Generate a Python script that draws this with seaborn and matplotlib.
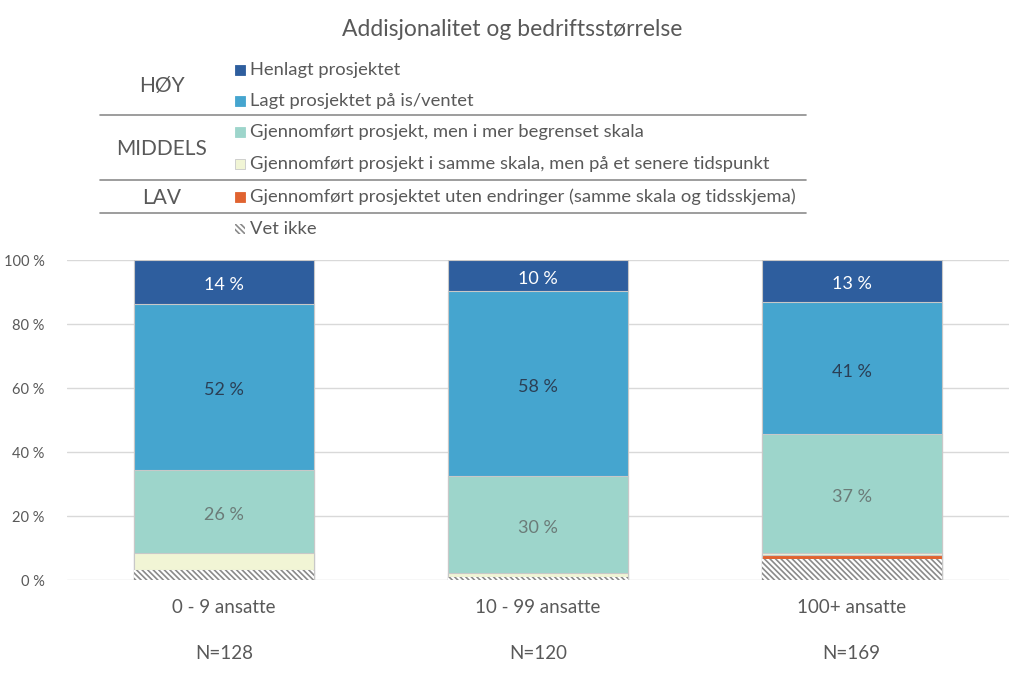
import matplotlib
matplotlib.use("Agg")
import matplotlib.pyplot as plt
from matplotlib.lines import Line2D
from matplotlib.patches import Rectangle
import pandas as pd
import seaborn as sns

# === data ===
categories = ["0 - 9 ansatte", "10 - 99 ansatte", "100+ ansatte"]
n_labels = ["N=128", "N=120", "N=169"]

henlagt = [13.8, 9.8, 13.2]      # Henlagt prosjektet
pa_is = [51.8, 57.7, 41.3]       # Lagt prosjektet på is/ventet
begrenset = [26.0, 30.3, 37.0]   # mer begrenset skala
senere = [5.4, 1.2, 0.8]         # samme skala, senere tidspunkt
uten_endr = [0.0, 0.0, 1.2]      # uten endringer
vet_ikke = [3.0, 1.0, 6.5]       # Vet ikke

series_names = [
    "Henlagt prosjektet",
    "Lagt prosjektet på is/ventet",
    "Gjennomført prosjekt, men i mer begrenset skala",
    "Gjennomført prosjekt i samme skala, men på et senere tidspunkt",
    "Gjennomført prosjektet uten endringer (samme skala og tidsskjema)",
    "Vet ikke",
]
colors = ["#2E5E9E", "#45A5CF", "#9DD5CB", "#F1F5D5", "#E06330", "white"]
label_colors = ["white", "#2b3f55", "#6b7b78", None, None, None]

sns.set_style("white")
plt.rcParams["font.family"] = ["Lato", "DejaVu Sans"]
plt.rcParams["hatch.color"] = "#8a8a8a"
plt.rcParams["hatch.linewidth"] = 1.2

# stack from bottom: vet ikke, uten endr, senere, begrenset, pa_is, henlagt
df = pd.DataFrame({
    "kategori": categories,
    "vet_ikke": vet_ikke,
    "uten_endr": uten_endr,
    "senere": senere,
    "begrenset": begrenset,
    "pa_is": pa_is,
    "henlagt": henlagt,
})
layers = ["vet_ikke", "uten_endr", "senere", "begrenset", "pa_is", "henlagt"]
cum = df[layers].cumsum(axis=1)

fig = plt.figure(figsize=(10.24, 6.75), dpi=100)
ax = fig.add_axes([0.0654, 0.1407, 0.9196, 0.4741])

W = 0.573
layer_col = {"henlagt": 0, "pa_is": 1, "begrenset": 2, "senere": 3, "uten_endr": 4, "vet_ikke": 5}
# draw tallest cumulative first so smaller stacks sit on top
for key in reversed(layers):
    i = layer_col[key]
    sns.barplot(data=cum.assign(kategori=categories), x="kategori", y=key, ax=ax,
                color=colors[i], width=W, edgecolor="#c8c8c8", linewidth=0.8,
                saturation=1, errorbar=None, zorder=2)
# hatch on the "vet ikke" layer
for p in ax.patches[-3:]:
    p.set_hatch("\\\\\\\\\\\\")
    p.set_edgecolor("#8a8a8a")
    p.set_linewidth(0)

# value labels
for key in ["henlagt", "pa_is", "begrenset"]:
    i = layer_col[key]
    for j in range(3):
        top = cum[key][j]
        mid = top - df[key][j] / 2 - 1
        ax.text(j, mid, f"{round(df[key][j])} %", ha="center", va="center",
                fontsize=13, color=label_colors[i], zorder=5)

ax.set_ylim(0, 100)
ax.set_xlim(-0.5, 2.5)
ax.set_yticks(range(0, 101, 20))
ax.set_yticklabels([f"{v} %" for v in range(0, 101, 20)], color="#595959", fontsize=10.5)
ax.yaxis.grid(True, color="#d9d9d9", linewidth=1, zorder=0)
ax.set_axisbelow(True)
ax.tick_params(axis="y", length=0, pad=16)
ax.tick_params(axis="x", length=0, pad=14, labelsize=13.5, labelcolor="#595959")
ax.set_xlabel("")
ax.set_ylabel("")
sns.despine(ax=ax, left=True, bottom=True)

for j, n in enumerate(n_labels):
    ax.text(j, -23, n, ha="center", va="center", fontsize=13.5, color="#595959")

fig.text(0.5, 1 - 29 / 675, "Addisjonalitet og bedriftsstørrelse",
         ha="center", va="center", fontsize=16.5, color="#595959")

# legend table
def fx(x):
    return x / 1024

def fy(y):
    return 1 - y / 675

entry_y = [70, 101, 132, 164, 197, 229]
for i, (name, y) in enumerate(zip(series_names, entry_y)):
    rect = Rectangle((fx(235), fy(y + 5)), fx(10), 10 / 675, transform=fig.transFigure,
                     facecolor=colors[i], edgecolor="#c8c8c8" if i == 3 else colors[i],
                     linewidth=0.6)
    if i == 5:
        rect.set_hatch("\\\\\\\\\\\\")
        rect.set_edgecolor("#8a8a8a")
        rect.set_linewidth(0)
    fig.add_artist(rect)
    fig.text(fx(250), fy(y), name, ha="left", va="center", fontsize=13.2, color="#595959")

for label, y in [("HØY", 86), ("MIDDELS", 149), ("LAV", 198)]:
    fig.text(fx(162), fy(y), label, ha="center", va="center", fontsize=15, color="#595959")

for y in [115, 180, 213]:
    fig.add_artist(Line2D([fx(100), fx(806)], [fy(y), fy(y)], transform=fig.transFigure,
                          color="#8c8c8c", linewidth=1.2))

fig.savefig("out.png", dpi=100)
